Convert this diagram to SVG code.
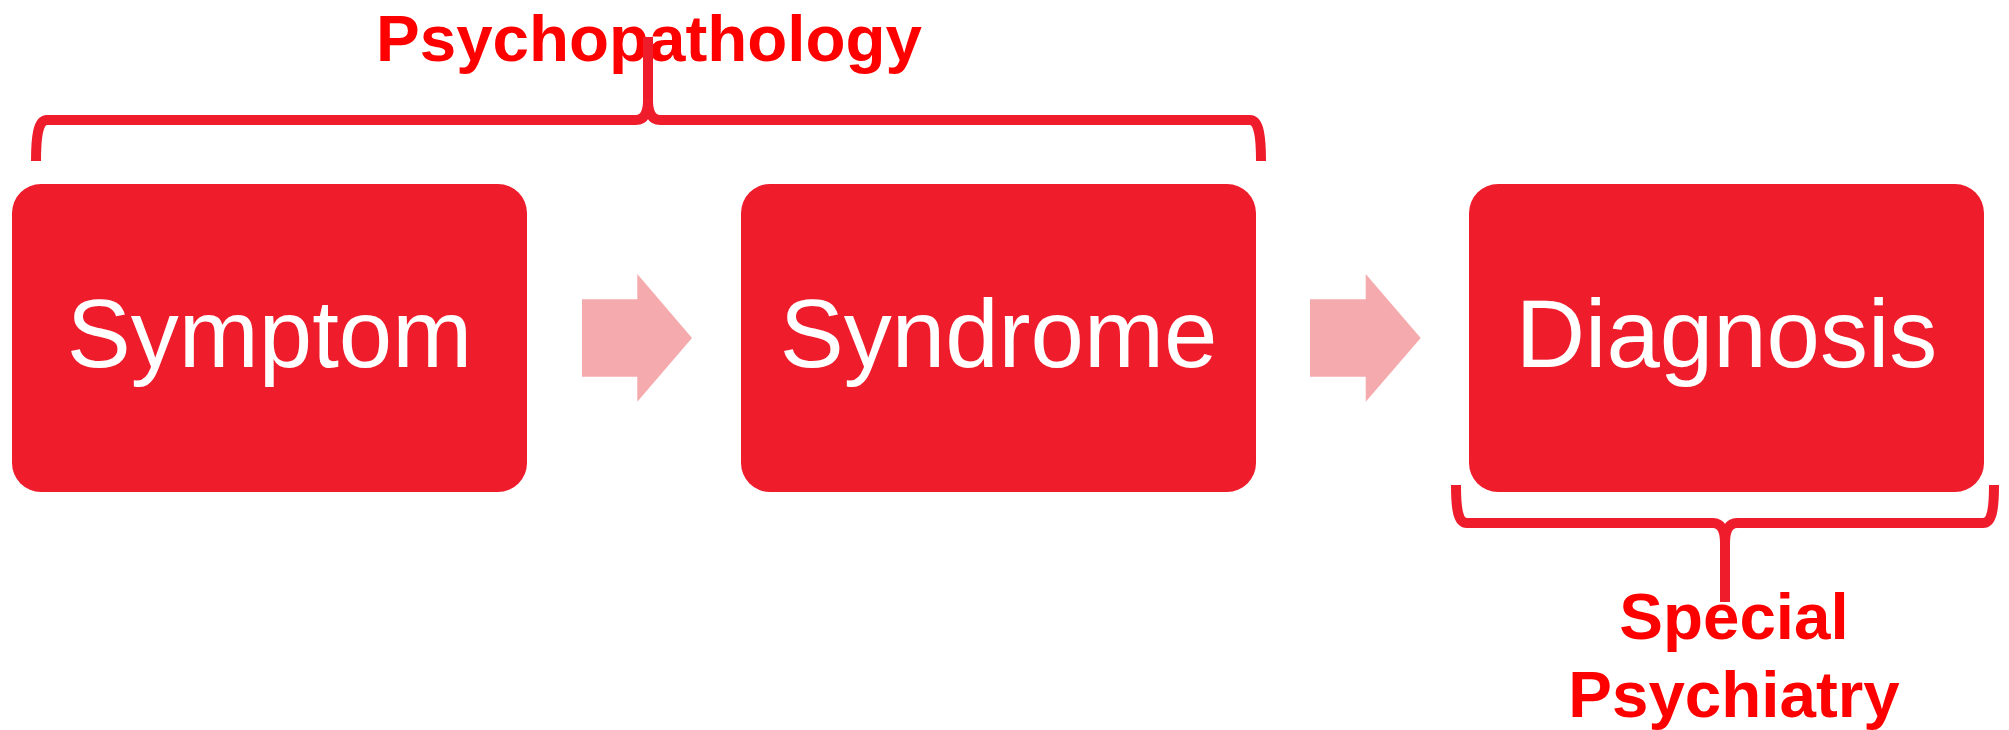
<svg xmlns="http://www.w3.org/2000/svg" width="2009" height="730" viewBox="0 0 2009 730">
  <style>
    .box { fill: #EF1C2C; }
    .box-label { font-family: "Liberation Sans", Arial, sans-serif; font-size: 96px; fill: #FFFFFF; text-anchor: middle; }
    .group-label { font-family: "Liberation Sans", Arial, sans-serif; font-size: 65.5px; font-weight: bold; fill: #FF0000; text-anchor: middle; }
    .arrow { fill: #F5ABAD; }
    .brace { fill: none; stroke: #EF1C2C; stroke-width: 10; stroke-linecap: butt; stroke-linejoin: round; }
  </style>
  <rect width="2009" height="730" fill="#FFFFFF"/>

  <!-- Group labels -->
  <text class="group-label" x="649" y="61">Psychopathology</text>
  <text class="group-label" x="1734" y="639">Special</text>
  <text class="group-label" x="1734" y="717">Psychiatry</text>

  <!-- Stage boxes -->
  <g id="symptom">
    <rect class="box" x="12" y="184" width="515" height="308" rx="29" ry="29"/>
    <text class="box-label" x="269.5" y="367">Symptom</text>
  </g>
  <g id="syndrome">
    <rect class="box" x="741" y="184" width="515" height="308" rx="29" ry="29"/>
    <text class="box-label" x="998.5" y="367">Syndrome</text>
  </g>
  <g id="diagnosis">
    <rect class="box" x="1469" y="184" width="515" height="308" rx="29" ry="29"/>
    <text class="box-label" x="1726.5" y="367">Diagnosis</text>
  </g>

  <!-- Connectors: block arrows between stages and grouping braces -->
  <g id="connectors">
    <polygon class="arrow" points="582,299.3 637.3,299.3 637.3,274 692,338 637.3,401.7 637.3,376.7 582,376.7"/>
    <polygon class="arrow" points="1310,299.3 1365.7,299.3 1365.7,274 1420.7,338 1365.7,401.7 1365.7,376.7 1310,376.7"/>
    <!-- brace over Symptom and Syndrome -->
    <path class="brace" d="M36,161 C36,137 38,120 47,120 H636 C644,120 648,113 648,100 V37 M1261,161 C1261,137 1259,120 1250,120 H660 C652,120 648,113 648,100"/>
    <!-- brace under Diagnosis -->
    <path class="brace" d="M1456,485 C1456,509 1458,523 1467,523 H1713 C1721,523 1725,530 1725,543 V602 M1994,485 C1994,509 1992,523 1983,523 H1737 C1729,523 1725,530 1725,543"/>
  </g>
</svg>
